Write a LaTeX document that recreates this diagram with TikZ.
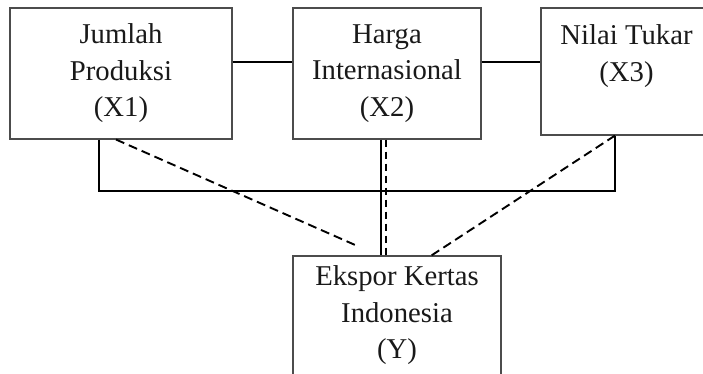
\documentclass[tikz,border=0pt]{standalone}
\usepackage{fontspec}
\setmainfont{Liberation Serif}
\usetikzlibrary{calc}
\begin{document}
\begin{tikzpicture}[x=1pt,y=-1pt,
  varbox/.style={draw=black!70,line width=1.1pt,align=center,inner sep=0pt,
    font=\fontsize{28.7}{36.5}\selectfont,text=black!90},
  link/.style={draw=black,line width=2pt},
  dashlink/.style={draw=black,line width=1.9pt,dash pattern=on 9pt off 5pt}]
\useasboundingbox (0,0) rectangle (703,374);
\clip (0,0) rectangle (703,374);
\node[varbox,minimum width=222pt,minimum height=131pt] (X1) at (121,73.5) {Jumlah\\Produksi\\(X1)};
\node[varbox,minimum width=188pt,minimum height=131pt] (X2) at (387,73.5) {Harga\\Internasional\\(X2)};
\node[varbox,minimum width=171pt,minimum height=127pt] (X3) at (626.5,71.5) {Nilai Tukar\\(X3)\\~};
\node[varbox,minimum width=208pt,minimum height=119pt] (Y) at (397,315.5) {Ekspor Kertas\\Indonesia\\(Y)};
% horizontal links
\draw[link] ([yshift=11.5pt]X1.east) -- ([yshift=11.5pt]X1.east -| X2.west);
\draw[link] ([yshift=11pt]X2.east) -- ([yshift=11pt]X2.east -| X3.west);
% bracket
\coordinate (bl) at (99,191);
\coordinate (br) at (615,191);
\draw[link,line width=2.3pt,line join=miter] (X1.south -| bl) -- (bl) -- (br) -- (X3.south -| br);
% middle verticals
\draw[link] ([xshift=-6pt]X2.south) -- ([xshift=-6pt]X2.south |- Y.north);
\draw[dashlink,dash pattern=on 7pt off 5pt] ([xshift=-1pt]X2.south) -- ([xshift=-1pt]X2.south |- Y.north);
% diagonals
\coordinate (dl) at ($(Y.north west)+(66,-9)$);
\draw[dashlink] ([xshift=-5pt]X1.south) -- (dl);
\draw[dashlink] (X3.south -| br) -- ($(Y.north west)+(139,0)$);
\end{tikzpicture}
\end{document}
